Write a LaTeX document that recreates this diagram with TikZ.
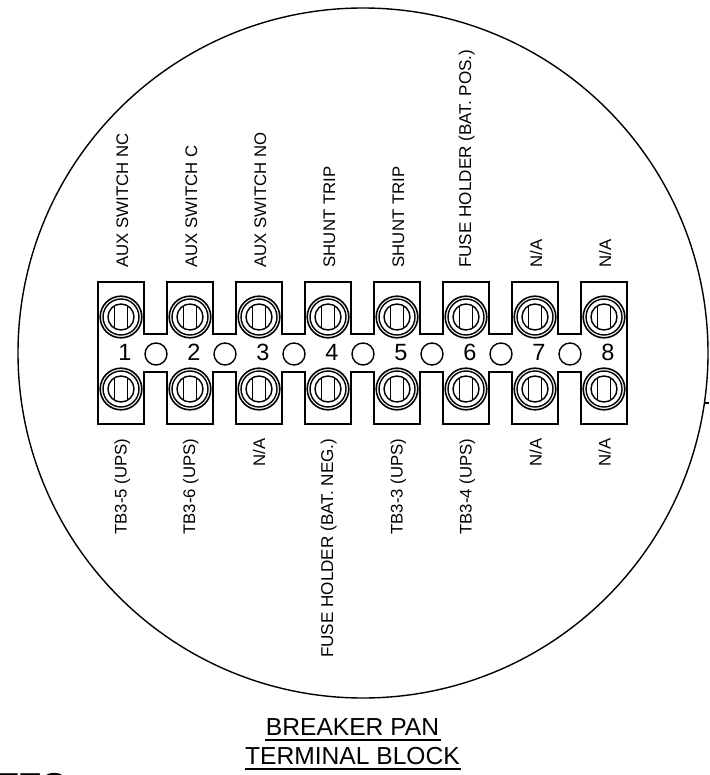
\documentclass[tikz,border=0pt]{standalone}
\usepackage{fontspec}
\setmainfont{Liberation Sans}
\tikzset{
  x=1pt,y=-1pt,
  lbl/.style={rotate=90,anchor=base west,inner sep=0pt,font=\fontsize{16.75}{18}\selectfont},
  lblb/.style={rotate=90,anchor=base east,inner sep=0pt,font=\fontsize{16.75}{18}\selectfont},
  num/.style={anchor=base,inner sep=0pt,font=\fontsize{23.5}{25}\selectfont},
  ttl/.style={anchor=base,inner sep=0pt,font=\fontsize{24.6}{26}\selectfont},
  ln/.style={line width=1.4pt,black},
}
\begin{document}
\begin{tikzpicture}[line join=miter]
\useasboundingbox (0,0) rectangle (709,775);
\clip (0,0) rectangle (709,775);
\draw[ln] (363,353) circle[radius=345pt];
\draw[ln] (705,403) -- (709,403);
% terminal block outline
\draw[ln] (98,282)
  \foreach \i in {0,...,6} { -- ({98+69*\i},282) -- ({144+69*\i},282) -- ({144+69*\i},334) -- ({167+69*\i},334) }
  -- (581,282) -- (627,282) -- (627,424) -- (581,424) -- (581,372)
  \foreach \i in {6,...,0} { -- ({167+69*\i},372) -- ({144+69*\i},372) -- ({144+69*\i},424) -- ({98+69*\i},424) }
  -- cycle;
\foreach \i in {0,...,7} {
  \foreach \y in {317,389} {
    \fill[white] ({121+69*\i},\y) circle[radius=21pt];
    \draw[line width=1.6pt] ({121+69*\i},\y) circle[radius=20.8pt];
    \draw[line width=1.4pt] ({121+69*\i},\y) circle[radius=18pt];
    \draw[ln] ({121+69*\i},\y) circle[radius=13pt];
    \draw[ln] ({121+69*\i-6.7},\y-11) -- ({121+69*\i-6.7},\y+11);
    \draw[ln] ({121+69*\i+6.7},\y-11) -- ({121+69*\i+6.7},\y+11);
  }
  \node[num] (n\i) at ({125+69*\i},360) {\the\numexpr\i+1\relax};
}
\foreach \i in {0,...,6} \draw[ln] ({156+69*\i},354) circle[radius=11pt];
% top labels
\foreach \i/\t/\x in {0/AUX SWITCH NC/128,1/AUX SWITCH C/197,2/AUX SWITCH NO/266,3/SHUNT TRIP/335,4/SHUNT TRIP/404,6/N\slash A/542,7/N\slash A/611}
  \node[lbl] (t\i) at (\x,267.5) {\t};
\node[lbl,font=\fontsize{17.1}{18}\selectfont] (t5) at (471,268) {FUSE HOLDER (BAT. POS.)};
% bottom labels
\foreach \i/\t/\x in {0/TB3-5 (UPS)/126.5,1/TB3-6 (UPS)/195,2/N\slash A/265,4/TB3-3 (UPS)/402.5,5/TB3-4 (UPS)/471.5,6/N\slash A/541.5,7/N\slash A/610.5}
  \node[lblb] (b\i) at (\x,438.5) {\t};
\node[lblb,font=\fontsize{17.1}{18}\selectfont] (b3) at (333,438.5) {FUSE HOLDER (BAT. NEG.)};
\node[ttl] (ttlA) at (352.5,735) {BREAKER PAN};
\draw[line width=1.2pt] (265,740) -- (441,740);
\node[ttl] (ttlB) at (352.5,764) {TERMINAL BLOCK};
\draw[line width=1.2pt] (245,769) -- (461,769);
\node[anchor=base west,inner sep=0pt,font=\fontsize{36}{38}\selectfont\bfseries] (notes) at (-4,798) {TES};
\end{tikzpicture}
\end{document}
